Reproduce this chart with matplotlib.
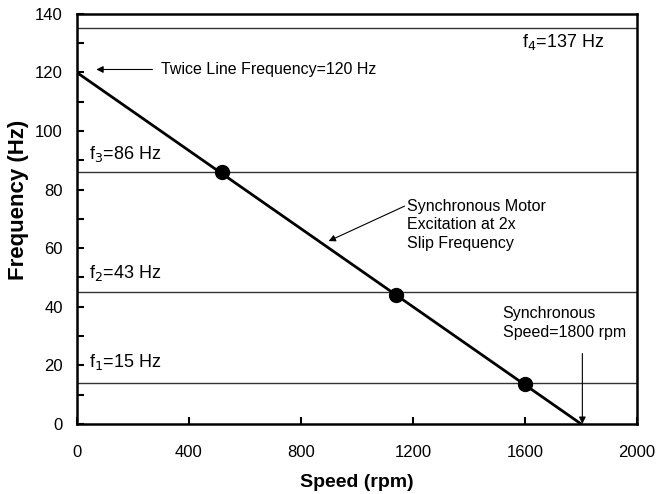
import numpy as np
import matplotlib.pyplot as plt
from matplotlib.ticker import MultipleLocator

plt.rcParams['font.family'] = ['Liberation Sans', 'DejaVu Sans']

# Données
speed = [0, 1800]
freq = [120, 0]
harm_levels = [135, 86, 45, 14]
harm_labels = ["f$_4$=137 Hz", "f$_3$=86 Hz", "f$_2$=43 Hz", "f$_1$=15 Hz"]
cross_speed = [520, 1140, 1600]
cross_freq = [86, 44, 13.5]

fig = plt.figure(figsize=(6.56, 4.94), dpi=100)
ax = fig.add_axes([0.117, 0.142, 0.854, 0.830])

for lvl in harm_levels:
    ax.axhline(lvl, color="#333333", linewidth=1.0, zorder=1)

ax.plot(speed, freq, color="black", linewidth=2, zorder=2)
ax.plot(cross_speed, cross_freq, "o", color="black", markersize=10, zorder=3)

# Étiquettes des harmoniques
ax.text(1590, 130.5, harm_labels[0], fontsize=13, va="center", ha="left")
ax.text(45, 92, harm_labels[1], fontsize=13, va="center", ha="left")
ax.text(45, 51.5, harm_labels[2], fontsize=13, va="center", ha="left")
ax.text(45, 21, harm_labels[3], fontsize=13, va="center", ha="left")

# Annotations
ax.annotate("Twice Line Frequency=120 Hz", xy=(60, 121), xytext=(300, 121),
            fontsize=11.5, va="center", ha="left",
            arrowprops=dict(arrowstyle="-|>", color="black", lw=0.8,
                            mutation_scale=10, shrinkA=4))
ax.annotate("Synchronous Motor\nExcitation at 2x\nSlip Frequency",
            xy=(890, 62), xytext=(1180, 68), fontsize=11.5, va="center",
            ha="left", linespacing=1.3,
            arrowprops=dict(arrowstyle="-|>", color="black", lw=0.8,
                            mutation_scale=10, shrinkA=0,
                            relpos=(0, 0.88)))
ax.text(1520, 34.5, "Synchronous\nSpeed=1800 rpm", fontsize=11.5,
        va="center", ha="left", linespacing=1.3)
ax.annotate("", xy=(1805, 0), xytext=(1805, 24),
            arrowprops=dict(arrowstyle="-|>", color="black", lw=0.8,
                            mutation_scale=10, shrinkA=0, shrinkB=0))

ax.set_xlim(0, 2000)
ax.set_ylim(0, 140)
ax.xaxis.set_major_locator(MultipleLocator(400))
ax.yaxis.set_major_locator(MultipleLocator(20))
ax.yaxis.set_minor_locator(MultipleLocator(10))
ax.tick_params(which="both", direction="in", length=5, width=1.5,
               labelsize=12, top=False, right=False)
ax.tick_params(axis="x", pad=15)
ax.tick_params(axis="y", pad=10)
for s in ax.spines.values():
    s.set_linewidth(1.8)

ax.set_xlabel("Speed (rpm)", fontsize=14, fontweight="bold", labelpad=10)
ax.set_ylabel("Frequency (Hz)", fontsize=16, fontweight="bold")
ax.yaxis.set_label_coords(-0.085, 0.546)

plt.savefig("out.png", dpi=100)
plt.close()
